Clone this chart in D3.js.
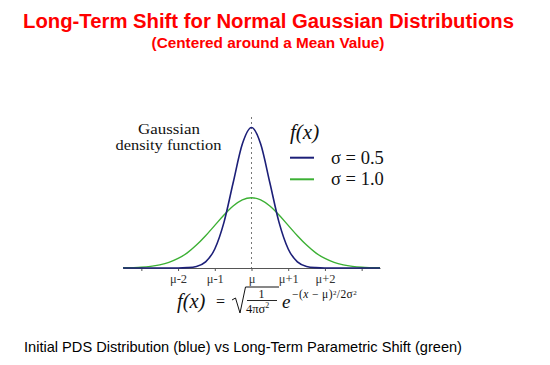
<!DOCTYPE html>
<html>
<head>
<meta charset="utf-8">
<script src="https://cdn.jsdelivr.net/npm/d3@7"></script>
<style>
  html, body { margin: 0; padding: 0; background: #fff; }
  svg { display: block; }
</style>
</head>
<body>
<script>
// ---- data ----
const xUnits = [-3.5,-3.25,-3,-2.75,-2.5,-2.25,-2,-1.75,-1.5,-1.25,-1,-0.75,-0.5,-0.25,0,
                0.25,0.5,0.75,1,1.25,1.5,1.75,2,2.25,2.5,2.75,3,3.25,3.5];
const blueValues = [0,0,0,0,0,0,0,0.002,0.009,0.035,0.108,0.259,0.484,0.704,0.798,
                    0.704,0.484,0.259,0.108,0.035,0.009,0.002,0,0,0,0,0,0,0];
const greenValues = [0.001,0.002,0.004,0.009,0.018,0.032,0.054,0.086,0.130,0.183,0.242,0.301,0.352,0.387,0.399,
                     0.387,0.352,0.301,0.242,0.183,0.130,0.086,0.054,0.032,0.018,0.009,0.004,0.002,0.001];
const tickValues = [-3,-2,-1,0,1,2,3];
const tickLabels = ["", "μ-2", "μ-1", "μ", "μ+1", "μ+2", ""];
const legendLabels = ["σ = 0.5", "σ = 1.0"];
const titleText = "Long-Term Shift for Normal Gaussian Distributions";
const subtitleText = "(Centered around a Mean Value)";
const captionText = "Initial PDS Distribution (blue) vs Long-Term Parametric Shift (green)";

const W = 550, H = 365;
const blue = "#1c1f78", green = "#3cb034";
const serif = "'Liberation Serif','DejaVu Serif',serif";
const sans = "'Liberation Sans',Arial,sans-serif";

const svg = d3.select("body").append("svg").attr("width", W).attr("height", H);

// titles
svg.append("text").attr("x", 268.5).attr("y", 27.5).attr("text-anchor", "middle")
  .attr("font-family", sans).attr("font-weight", "bold").attr("font-size", 20.3)
  .attr("fill", "#ff0000").text(titleText);
svg.append("text").attr("x", 268).attr("y", 48).attr("text-anchor", "middle")
  .attr("font-family", sans).attr("font-weight", "bold").attr("font-size", 15.3)
  .attr("fill", "#ff0000").text(subtitleText);
svg.append("text").attr("x", 24).attr("y", 352).attr("text-anchor", "start")
  .attr("font-family", sans).attr("font-size", 14.6)
  .attr("fill", "#000").text(captionText);

// scales
const x = d3.scaleLinear().domain([-3.5, 3.5]).range([123, 380]);
const y = d3.scaleLinear().domain([0, 0.798]).range([268, 127.5]);

// dotted mean line
svg.append("line").attr("x1", x(0)).attr("x2", x(0)).attr("y1", 117).attr("y2", y(0))
  .attr("stroke", "#777").attr("stroke-width", 1).attr("stroke-dasharray", "2,3");

// axis
const axis = d3.axisBottom(x).tickValues(tickValues).tickSize(3).tickSizeOuter(0).tickPadding(3)
  .tickFormat((d, i) => tickLabels[i]);
const gAxis = svg.append("g").attr("transform", `translate(0,${y(0)})`).call(axis);
gAxis.select(".domain").attr("stroke", "#555");
gAxis.selectAll(".tick line").attr("stroke", "#555");
gAxis.selectAll(".tick text").attr("font-family", serif).attr("font-size", 12.5).attr("fill", "#333");

// curves
const line = d3.line().x((d, i) => x(xUnits[i])).y(d => y(d)).curve(d3.curveMonotoneX);
svg.append("path").datum(greenValues).attr("d", line).attr("fill", "none")
  .attr("stroke", green).attr("stroke-width", 1.4);
svg.append("path").datum(blueValues).attr("d", line).attr("fill", "none")
  .attr("stroke", blue).attr("stroke-width", 1.6);

// annotation
svg.append("text").attr("x", 169).attr("y", 134).attr("text-anchor", "middle")
  .attr("font-family", serif).attr("font-size", 14).attr("fill", "#111")
  .attr("textLength", 62).attr("lengthAdjust", "spacingAndGlyphs").text("Gaussian");
svg.append("text").attr("x", 168.5).attr("y", 150).attr("text-anchor", "middle")
  .attr("font-family", serif).attr("font-size", 14).attr("fill", "#111")
  .attr("textLength", 106).attr("lengthAdjust", "spacingAndGlyphs").text("density function");

// legend
svg.append("text").attr("x", 290).attr("y", 139).attr("font-family", serif)
  .attr("font-style", "italic").attr("font-size", 21).attr("fill", "#111").text("f(x)");
const legColors = [blue, green];
legendLabels.forEach((lab, i) => {
  const ly = 157.7 + i * 21.6;
  svg.append("line").attr("x1", 290).attr("x2", 314).attr("y1", ly).attr("y2", ly)
    .attr("stroke", legColors[i]).attr("stroke-width", 2);
  svg.append("text").attr("x", 331).attr("y", ly + 6).attr("font-family", serif)
    .attr("font-size", 18.5).attr("fill", "#111").text(lab);
});

// formula
const fg = svg.append("g").attr("font-family", serif).attr("fill", "#111");
fg.append("text").attr("x", 177).attr("y", 308).attr("font-style", "italic").attr("font-size", 20.5).text("f(x)");
fg.append("text").attr("x", 216).attr("y", 307).attr("font-size", 16).text("=");
svg.append("path").attr("d", "M232,300 L235.5,298 L240,313 L245.5,287 L279,287")
  .attr("fill", "none").attr("stroke", "#111").attr("stroke-width", 1);
fg.append("text").attr("x", 261.5).attr("y", 297.5).attr("text-anchor", "middle").attr("font-size", 12).text("1");
svg.append("line").attr("x1", 247).attr("x2", 277).attr("y1", 300.5).attr("y2", 300.5)
  .attr("stroke", "#111").attr("stroke-width", 0.9);
const den = fg.append("text").attr("x", 246).attr("y", 312.5).attr("font-size", 12.5);
den.append("tspan").text("4πσ");
den.append("tspan").attr("font-size", 8).attr("dy", -5).text("2");
fg.append("text").attr("x", 282).attr("y", 308).attr("font-style", "italic").attr("font-size", 19).text("e");
const ex = fg.append("text").attr("x", 292).attr("y", 298).attr("font-size", 11.5).attr("letter-spacing", 0.4);
ex.append("tspan").text("−(");
ex.append("tspan").attr("font-style", "italic").text("x");
ex.append("tspan").text(" − μ)");
ex.append("tspan").attr("font-size", 7).attr("dy", -3.5).text("2");
ex.append("tspan").attr("dy", 3.5).text("/2σ");
ex.append("tspan").attr("font-size", 7).attr("dy", -3.5).text("2");
</script>
</body>
</html>
